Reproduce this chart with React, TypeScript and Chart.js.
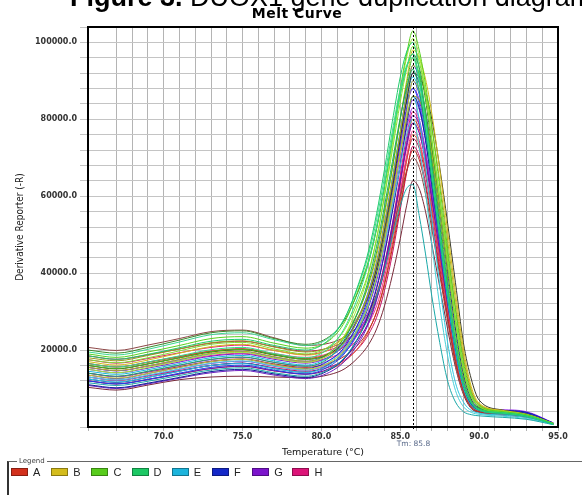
import React, { useEffect, useRef } from 'react';
import { Chart, registerables } from 'chart.js';

Chart.register(...registerables);

// Temperature sample points (°C)
const TEMPS = [65.2, 67, 69, 71, 73, 75, 77, 79, 80.5, 81.5, 82.5, 83, 83.5, 84, 84.5, 85, 85.4, 85.8, 86.2, 86.6, 87, 87.5, 88, 88.5, 89, 89.5, 90, 91.5, 93, 94.7];

// Derivative reporter (-R) per well
const D1 = [18500, 17600, 18900, 20600, 22300, 22800, 21200, 20000, 22800, 28500, 39000, 46000, 55500, 67000, 79500, 91000, 97500, 100000, 93000, 81000, 67500, 51500, 36000, 22000, 11500, 6500, 4600, 3700, 2900, 800];
const D2 = [16500, 15600, 16900, 18500, 20100, 20700, 19100, 18000, 20600, 26000, 36000, 43000, 52000, 63000, 75000, 86500, 93500, 97000, 90500, 79000, 66000, 50500, 35000, 21500, 11200, 6300, 4500, 3600, 2800, 780];
const D3 = [14000, 13200, 14500, 16100, 17600, 18200, 16800, 15800, 18000, 23000, 32000, 38500, 47000, 57500, 69000, 80500, 88000, 93000, 87500, 77000, 64500, 49500, 34500, 21000, 11000, 6200, 4400, 3500, 2700, 760];
const D4 = [19500, 18700, 20200, 22100, 24000, 24500, 22700, 21200, 23300, 28500, 38500, 45000, 54000, 65000, 77000, 88000, 94000, 96000, 89500, 78500, 65500, 50500, 35500, 21500, 11300, 6400, 4600, 3700, 2900, 800];
const C1 = [19000, 18100, 19500, 21200, 23000, 23500, 21800, 20500, 22500, 27500, 37500, 43500, 52000, 63000, 75500, 88000, 97000, 103000, 98000, 89000, 78000, 62500, 46500, 30500, 17000, 8800, 5600, 4000, 3200, 900];
const C2 = [17500, 16700, 18000, 19800, 21500, 22000, 20300, 19000, 21000, 25500, 34500, 40500, 49000, 60000, 72000, 84500, 93000, 99000, 95000, 86500, 75000, 60000, 44000, 28500, 15500, 8000, 5300, 3900, 3100, 850];
const C3 = [16000, 15200, 16400, 18000, 19600, 20200, 18800, 17600, 19300, 23500, 31500, 37500, 45500, 56000, 67500, 80000, 89000, 96000, 91500, 82000, 69500, 54000, 38500, 24000, 13000, 7000, 4900, 3800, 3000, 800];
const C4 = [15000, 14100, 15500, 17200, 18900, 19400, 17900, 16800, 19000, 24000, 33500, 40000, 49000, 60500, 73500, 87000, 96000, 101000, 96500, 87000, 74500, 59000, 43000, 27500, 15000, 8000, 5400, 4100, 3200, 900];
const C5 = [20000, 19200, 20700, 22600, 24500, 25000, 23000, 21500, 23500, 28000, 37000, 43000, 51500, 62500, 74500, 86500, 93500, 97000, 93500, 85000, 73000, 58000, 42500, 27500, 15000, 8000, 5300, 4000, 3100, 880];
const B1 = [17000, 16100, 17400, 19200, 20900, 21500, 19900, 18700, 20200, 24000, 31500, 37000, 44500, 55000, 67000, 80000, 90000, 98000, 96000, 90500, 81500, 67000, 51000, 35000, 20500, 10500, 6200, 4300, 3300, 950];
const B2 = [15500, 14700, 15900, 17600, 19200, 19700, 18300, 17100, 18700, 22300, 29500, 35000, 42500, 52500, 64000, 76500, 86500, 94000, 92000, 86500, 78000, 64000, 48500, 33000, 19000, 9800, 5900, 4100, 3200, 900];
const B3 = [13500, 12700, 13900, 15500, 17000, 17600, 16200, 15100, 16700, 20200, 27000, 32000, 39000, 48500, 59500, 71500, 81500, 90000, 87500, 80500, 71000, 56500, 41500, 27500, 15500, 8200, 5300, 4000, 3100, 880];
const B4 = [16000, 15100, 16400, 18000, 19500, 20100, 18700, 17600, 19000, 22500, 29500, 34500, 41500, 51500, 63000, 75500, 85000, 92000, 91000, 87000, 80000, 67500, 53000, 37500, 22000, 12500, 7000, 4400, 3400, 950];
const B5 = [18000, 17200, 18600, 20300, 21900, 22400, 20800, 19500, 20800, 23800, 30000, 34500, 41000, 50000, 60500, 71500, 80000, 86000, 85000, 80000, 72000, 59500, 45000, 31000, 18000, 9300, 5800, 4300, 3300, 920];
const E1 = [14500, 13700, 14900, 16500, 18000, 18600, 17200, 16100, 18200, 22000, 29500, 35000, 42500, 52500, 64500, 77000, 86000, 91000, 87000, 77000, 64500, 48500, 33000, 19500, 10200, 5600, 4300, 3400, 2700, 760];
const E2 = [12500, 11700, 12900, 14500, 16000, 16500, 15200, 14200, 16200, 19800, 27000, 32000, 39000, 48500, 59500, 71500, 80500, 86000, 80000, 68000, 54000, 37000, 22000, 11500, 6500, 4300, 3600, 3100, 2500, 720];
const E3 = [11500, 10800, 11900, 13400, 14800, 15400, 14100, 13200, 15000, 18200, 24500, 28500, 34000, 41000, 49500, 57500, 62000, 63000, 55000, 45000, 34000, 22000, 12000, 6500, 4000, 3200, 2900, 2500, 2000, 600];
const E4 = [13000, 12200, 13500, 15100, 16600, 17200, 15900, 14800, 16900, 20500, 27500, 32500, 39000, 47500, 57500, 68000, 76000, 80000, 73000, 61000, 47500, 31500, 18500, 9500, 5300, 3800, 3300, 2800, 2200, 650];
const F1 = [13500, 12600, 13900, 15500, 17000, 17600, 16200, 15200, 17300, 21000, 28500, 34000, 41500, 51500, 63500, 76500, 87000, 94000, 90500, 81000, 68500, 52500, 36500, 22000, 11800, 6500, 4800, 4200, 3700, 1000];
const F2 = [12000, 11200, 12400, 14000, 15500, 16100, 14800, 13800, 15800, 19300, 26300, 31500, 38500, 48000, 59500, 72000, 82500, 90000, 86500, 77500, 65500, 50000, 34500, 21000, 11200, 6200, 4600, 4000, 3500, 950];
const F3 = [11000, 10200, 11400, 12900, 14400, 15000, 13800, 12900, 14800, 18000, 24500, 29500, 36000, 45000, 56000, 68000, 78500, 86000, 83000, 74500, 63000, 48000, 33000, 20000, 10600, 5900, 4400, 3700, 3200, 900];
const F4 = [12500, 11600, 12900, 14500, 16000, 16600, 15200, 14200, 16300, 19800, 27000, 32500, 40000, 50000, 62000, 75000, 85000, 92000, 89500, 82000, 71000, 56000, 40500, 25500, 13800, 7300, 5100, 4300, 3800, 1000];
const F5 = [15500, 14600, 15900, 17500, 19000, 19600, 18200, 17100, 19000, 22700, 30000, 35500, 43000, 53000, 64500, 76500, 84500, 88000, 84000, 75000, 63000, 48500, 34000, 20500, 11000, 6100, 4600, 4000, 3500, 960];
const G1 = [15000, 14100, 15300, 16900, 18400, 19000, 17600, 16600, 18300, 21500, 28000, 33000, 40000, 49500, 61000, 73500, 83000, 88000, 85000, 76500, 65000, 50000, 35000, 21500, 11500, 6400, 4900, 4300, 3800, 1050];
const G2 = [13000, 12200, 13400, 15000, 16500, 17100, 15800, 14800, 16400, 19400, 25500, 30000, 36500, 45500, 56500, 68500, 77500, 83000, 80000, 72000, 61500, 47500, 33500, 20500, 11000, 6100, 4700, 4100, 3600, 1000];
const G3 = [12000, 11200, 12300, 13800, 15200, 15800, 14600, 13700, 15200, 18000, 23500, 27500, 33500, 42000, 52500, 64000, 73000, 79000, 76500, 69000, 59000, 45500, 32000, 19500, 10500, 5800, 4500, 3900, 3400, 950];
const G4 = [14000, 13100, 14400, 16000, 17500, 18100, 16800, 15800, 17400, 20500, 26500, 31500, 38000, 47000, 58000, 70500, 79500, 85000, 82500, 75000, 64500, 50500, 36000, 22000, 12000, 6600, 5000, 4500, 4000, 1100];
const G5 = [10800, 10000, 11200, 12700, 14100, 14700, 13500, 12600, 14200, 17200, 22800, 27000, 33000, 41500, 52000, 64000, 74000, 81000, 78500, 71000, 60500, 47000, 33000, 20000, 10800, 6000, 4600, 4000, 3500, 980];
const A1 = [16500, 15600, 16800, 18300, 19700, 20300, 18900, 17800, 19000, 21000, 25000, 28500, 33500, 41500, 51500, 63500, 73500, 80000, 77500, 70000, 59500, 46000, 32000, 19000, 10200, 5600, 4300, 3600, 2900, 830];
const A2 = [14000, 13100, 14300, 15700, 17100, 17700, 16400, 15500, 16600, 18500, 22200, 25300, 29800, 37000, 46500, 57500, 66500, 72000, 69500, 62500, 53000, 40500, 28500, 17000, 9300, 5200, 4000, 3300, 2700, 780];
const A3 = [20700, 19900, 21300, 23000, 24800, 25200, 23200, 21200, 21800, 23500, 27000, 30000, 34500, 41500, 50500, 60000, 66500, 70000, 67500, 60500, 51500, 39500, 27500, 16500, 9000, 5000, 3900, 3200, 2600, 750];
const A4 = [10300, 9600, 10900, 12300, 13000, 13200, 13000, 12800, 13600, 15200, 18800, 21500, 25500, 31500, 39500, 49000, 57500, 64000, 62000, 56000, 47500, 36500, 25500, 15500, 8500, 4800, 3800, 3100, 2500, 720];
const A5 = [12000, 11200, 12400, 13800, 15200, 15800, 14600, 13800, 15000, 17200, 21500, 25000, 30000, 37500, 47500, 59000, 69000, 76000, 73500, 66500, 57000, 44000, 31000, 18500, 10000, 5500, 4200, 3500, 2800, 800];
const H1 = [17500, 16600, 17800, 19300, 20700, 21300, 19900, 18800, 20000, 22000, 26000, 29500, 34500, 42500, 53000, 65500, 75500, 82000, 79000, 71000, 60500, 46500, 32500, 19500, 10500, 5800, 4400, 3700, 3000, 850];
const H2 = [15500, 14600, 15800, 17200, 18600, 19200, 17900, 16900, 18000, 19900, 23800, 27000, 31500, 39000, 49000, 61000, 70500, 77000, 74500, 67000, 57000, 44000, 31000, 18500, 10000, 5500, 4200, 3500, 2900, 820];
const H3 = [13000, 12100, 13300, 14700, 16000, 16600, 15400, 14500, 15600, 17500, 21200, 24200, 28500, 35500, 45000, 56500, 66000, 73000, 70500, 63500, 54000, 41500, 29000, 17500, 9500, 5300, 4100, 3400, 2800, 800];
const H4 = [16500, 15600, 16900, 18400, 19800, 20400, 19100, 18100, 19200, 21300, 25300, 28800, 33800, 41500, 51500, 63000, 72500, 79000, 76500, 69500, 59500, 46500, 33000, 20000, 10800, 5900, 4400, 3600, 2900, 830];
const H5 = [18500, 17600, 18800, 20300, 21800, 22300, 20900, 19700, 20600, 22400, 26000, 29000, 33500, 40500, 50000, 60500, 69500, 75000, 72500, 65500, 56000, 43000, 30500, 18500, 10000, 5500, 4200, 3500, 2900, 820];

const WELLS = [
  { name: 'D1', color: '#1ecc6a', values: D1 },
  { name: 'D2', color: '#2ee08a', values: D2 },
  { name: 'D3', color: '#18a860', values: D3 },
  { name: 'D4', color: '#3ad890', values: D4 },
  { name: 'C1', color: '#5ad21e', values: C1 },
  { name: 'C2', color: '#80e030', values: C2 },
  { name: 'C3', color: '#48b818', values: C3 },
  { name: 'C4', color: '#a0e838', values: C4 },
  { name: 'C5', color: '#3a8a2a', values: C5 },
  { name: 'B1', color: '#d0bc18', values: B1 },
  { name: 'B2', color: '#b8ac20', values: B2 },
  { name: 'B3', color: '#c8c430', values: B3 },
  { name: 'B4', color: '#3a3a2a', values: B4 },
  { name: 'B5', color: '#9a9a20', values: B5 },
  { name: 'E1', color: '#1ab8dc', values: E1 },
  { name: 'E2', color: '#30c8e0', values: E2 },
  { name: 'E3', color: '#1aa8a8', values: E3 },
  { name: 'E4', color: '#48d0d8', values: E4 },
  { name: 'F1', color: '#1a2cd0', values: F1 },
  { name: 'F2', color: '#2040e8', values: F2 },
  { name: 'F3', color: '#101c98', values: F3 },
  { name: 'F4', color: '#0a148a', values: F4 },
  { name: 'F5', color: '#3050ff', values: F5 },
  { name: 'G1', color: '#8018d0', values: G1 },
  { name: 'G2', color: '#9a30e0', values: G2 },
  { name: 'G3', color: '#6a10b0', values: G3 },
  { name: 'G4', color: '#a040f0', values: G4 },
  { name: 'G5', color: '#7020c0', values: G5 },
  { name: 'A1', color: '#d83a1e', values: A1 },
  { name: 'A2', color: '#c0281a', values: A2 },
  { name: 'A3', color: '#8c4646', values: A3 },
  { name: 'A4', color: '#7a2a3a', values: A4 },
  { name: 'A5', color: '#e05030', values: A5 },
  { name: 'H1', color: '#e01478', values: H1 },
  { name: 'H2', color: '#f0308c', values: H2 },
  { name: 'H3', color: '#c81060', values: H3 },
  { name: 'H4', color: '#e84898', values: H4 },
  { name: 'H5', color: '#b01858', values: H5 },
];

const LEGEND_ROWS = ['A', 'B', 'C', 'D', 'E', 'F', 'G', 'H'];
const LEGEND_COLORS = ['#d2301c', '#d4bc1c', '#58cc1c', '#1cc864', '#1cb4dc', '#1428c8', '#7c14cc', '#dc1478'];

const TM_VALUE = 85.8;
const X_MIN = 65.2;
const X_MAX = 95;
const Y_MAX = 104000;

const TICK_FONT = "'DejaVu Sans', sans-serif";

const overlayPlugin = {
  id: 'overlay',
  afterDraw(chart: any) {
    const { ctx, chartArea } = chart;
    const xs = chart.scales.x;
    ctx.save();
    // Tm dotted line
    const tx = Math.round(xs.getPixelForValue(TM_VALUE)) + 0.5;
    ctx.strokeStyle = '#000';
    ctx.lineWidth = 1;
    ctx.setLineDash([2, 2]);
    ctx.beginPath();
    ctx.moveTo(tx, chartArea.top);
    ctx.lineTo(tx, chartArea.bottom + 3);
    ctx.stroke();
    ctx.setLineDash([]);
    // Tm label
    ctx.fillStyle = '#5a6a8a';
    ctx.font = "7.5px 'DejaVu Sans', sans-serif";
    ctx.textAlign = 'center';
    ctx.textBaseline = 'middle';
    ctx.fillText('Tm: ' + TM_VALUE.toFixed(1), tx, 444);
    // frame
    ctx.strokeStyle = '#000';
    ctx.lineWidth = 2;
    ctx.strokeRect(chartArea.left, chartArea.top, chartArea.right - chartArea.left, chartArea.bottom - chartArea.top);
    // chart title
    ctx.fillStyle = '#000';
    ctx.textAlign = 'center';
    ctx.textBaseline = 'middle';
    ctx.font = "bold 14px 'DejaVu Sans', sans-serif";
    (ctx as any).letterSpacing = '0.5px';
    ctx.fillText('Melt Curve', 297, 14);
    (ctx as any).letterSpacing = '0px';
    // figure caption (clipped at the top)
    ctx.textAlign = 'left';
    ctx.textBaseline = 'alphabetic';
    ctx.font = "bold 27px 'Liberation Sans', Arial, sans-serif";
    const bold = 'Figure 3. ';
    ctx.fillText(bold, 70, 6);
    const w = ctx.measureText(bold).width;
    ctx.font = "27px 'Liberation Sans', Arial, sans-serif";
    ctx.fillText('DUOX1 gene duplication diagram', 70 + w, 6);
    ctx.restore();
  },
};

export default function App() {
  const canvasRef = useRef<HTMLCanvasElement | null>(null);

  useEffect(() => {
    if (!canvasRef.current) return;
    const datasets = WELLS.map((w) => ({
      label: w.name,
      data: TEMPS.map((t, i) => ({ x: t, y: w.values[i] })),
      borderColor: w.color,
      borderWidth: 1,
      pointRadius: 0,
      fill: false,
      cubicInterpolationMode: 'monotone' as const,
    }));
    const chart = new Chart(canvasRef.current, {
      type: 'line',
      data: { datasets },
      plugins: [overlayPlugin],
      options: {
        responsive: false,
        animation: false,
        devicePixelRatio: 1,
        layout: { padding: { left: 0, right: 24, top: 27, bottom: 0 } },
        plugins: { legend: { display: false }, tooltip: { enabled: false }, title: { display: false } },
        scales: {
          x: {
            type: 'linear',
            min: X_MIN,
            max: X_MAX,
            afterFit: (s: any) => { s.height = 33; },
            border: { display: false },
            grid: { color: '#b4b4b4', lineWidth: 1, tickLength: 4 },
            ticks: {
              stepSize: 1,
              autoSkip: false,
              maxRotation: 0,
              padding: 1,
              color: '#333',
              font: { family: TICK_FONT, size: 8, weight: 'bold' },
              callback: (v: any) => (Number(v) % 5 === 0 ? Number(v).toFixed(1) : ''),
            },
            title: {
              display: true,
              text: 'Temperature (°C)',
              color: '#111',
              font: { family: TICK_FONT, size: 9.5 },
              padding: { top: 0, bottom: 2 },
            },
          },
          y: {
            min: 0,
            max: Y_MAX,
            afterFit: (s: any) => { s.width = 88; },
            border: { display: false },
            grid: { color: '#c4c4c4', lineWidth: 1, tickLength: 8 },
            ticks: {
              stepSize: 4000,
              autoSkip: false,
              padding: 3,
              color: '#333',
              font: { family: TICK_FONT, size: 8, weight: 'bold' },
              callback: (v: any) => (Number(v) % 20000 === 0 && Number(v) !== 0 ? Number(v).toFixed(1) : ''),
            },
            title: {
              display: true,
              text: 'Derivative Reporter (-R)',
              color: '#222',
              font: { family: "'Liberation Sans Narrow', 'DejaVu Sans Condensed', sans-serif", size: 10 },
              padding: { top: 14, bottom: 0 },
            },
          },
        },
      } as any,
    });
    return () => chart.destroy();
  }, []);

  return (
    <div style={{ position: 'absolute', left: 0, top: 0, width: 582, height: 495, overflow: 'hidden', background: '#fff' }}>
      <canvas ref={canvasRef} width={582} height={460} style={{ display: 'block', width: 582, height: 460 }} />
      <div style={{ position: 'absolute', left: 7, top: 461, width: 640, height: 60, borderTop: '1px solid #666', borderLeft: '2px solid #333' }}>
        <span style={{ position: 'absolute', left: 8, top: -5, fontSize: 7, lineHeight: '8px', background: '#fff', padding: '0 2px', fontFamily: "'DejaVu Sans', sans-serif", color: '#444' }}>Legend</span>
        {LEGEND_ROWS.map((r, i) => (
          <div key={r} style={{ position: 'absolute', left: 2 + i * 40.2, top: 5, height: 10, display: 'flex', alignItems: 'center' }}>
            <span style={{ display: 'inline-block', width: 15, height: 6, background: LEGEND_COLORS[i], border: '1px solid rgba(0,0,0,0.35)' }} />
            <span style={{ marginLeft: 5, fontSize: 11, lineHeight: '10px', fontFamily: "'Liberation Sans', Arial, sans-serif", color: '#222' }}>{r}</span>
          </div>
        ))}
      </div>
    </div>
  );
}
